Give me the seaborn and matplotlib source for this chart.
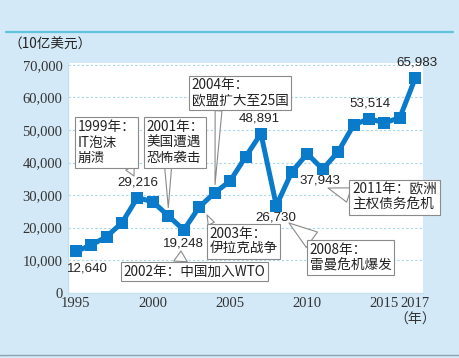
import matplotlib
matplotlib.use("Agg")
import matplotlib.pyplot as plt
from matplotlib.lines import Line2D
import seaborn as sns
import pandas as pd

# Data (10亿美元)
years = list(range(1995, 2018))
values = [12640, 14600, 17200, 21500, 29216, 27900, 23600, 19248, 26300, 30700,
          34300, 41700, 48891, 26730, 37100, 42700, 37943, 43300, 51500, 53514,
          52200, 53800, 65983]
label_years = [1995, 1999, 2002, 2007, 2008, 2011, 2014, 2017]
tick_years = [1995, 2000, 2005, 2010, 2015, 2017]
events = ["1999年：\nIT泡沫\n崩溃",
          "2001年：\n美国遭遇\n恐怖袭击",
          "2004年：\n欧盟扩大至25国",
          "2003年：\n伊拉克战争",
          "2002年：中国加入WTO",
          "2008年：\n雷曼危机爆发",
          "2011年：欧洲\n主权债务危机"]

df = pd.DataFrame({"year": years, "value": values})

sns.set_style("white")
plt.rcParams["font.family"] = ["Noto Sans CJK SC", "DejaVu Sans"]

W, H = 460, 358
bg = "#d4e9f7"
blue = "#0a7acb"

fig = plt.figure(figsize=(W / 100, H / 100), dpi=100, facecolor=bg)
ax = fig.add_axes([68 / W, 1 - 292.6 / H, (423 - 68) / W, (292.6 - 63) / H])
ax.set_facecolor("white")

sns.lineplot(data=df, x="year", y="value", ax=ax, color=blue, lw=3.6,
             marker="s", markersize=8.8, markeredgewidth=0, zorder=2)

ax.set_xlim(1994.5, 2017.5)
ax.set_ylim(0, 70600)
ax.set_xlabel("")
ax.set_ylabel("")

# grid
ax.set_yticks(range(0, 70001, 10000))
ax.set_yticklabels([f"{v:,}" for v in range(0, 70001, 10000)],
                   family="Liberation Serif", fontsize=10.5, color="#333333")
for v in range(10000, 70001, 10000):
    ax.axhline(v, color="#a6d6ec", lw=0.8, ls=(0, (2, 2)), zorder=0)

ax.set_xticks(tick_years)
ax.set_xticklabels([str(y) for y in tick_years], family="Liberation Serif",
                   fontsize=10.5, color="#333333")
ax.set_xticks(years, minor=True)
ax.tick_params(axis="x", which="both", direction="in", length=5,
               color="#c9dde6", width=0.8, pad=3)
ax.tick_params(axis="y", length=0, pad=4)
for s in ["top", "right"]:
    ax.spines[s].set_visible(False)
for s in ["left", "bottom"]:
    ax.spines[s].set_color("#c4e0ec")
    ax.spines[s].set_linewidth(1)

# value labels (pixel offsets)
label_off = {1995: (12, -17), 1999: (0, 15), 2002: (0, -13), 2007: (-2, 15),
             2008: (-1, -12), 2011: (-3, -11), 2014: (1, 15), 2017: (2, 16)}
for y in label_years:
    v = values[years.index(y)]
    dx, dy = label_off[y]
    ax.annotate(f"{v:,}", xy=(y, v), xytext=(dx * 0.72, dy * 0.72),
                textcoords="offset points", ha="center", va="center",
                fontsize=9.6, family="Liberation Sans", color="#222222",
                annotation_clip=False)

# event callouts: (box centre px, tip, tip coords, relpos, tail width, shrink)
def px(x, y):
    return (x, H - y)

callouts = [
    (px(106.5, 142.5), px(134, 176), "figure pixels", (0.88, 0), 0.7, 0),
    (px(175, 142.5), (2001, values[6]), "data", (0.38, 0), 0.5, 6),
    (px(240, 93), (2004, values[9]), "data", (0.28, 0), 0.5, 6),
    (px(243.5, 241.5), px(207, 215), "figure pixels", (0.05, 1), 0.5, 0),
    (px(194.5, 271.5), px(181, 251), "figure pixels", (0.4, 1), 1.0, 0),
    (px(350.5, 257.5), px(289, 223), "figure pixels", (0.08, 1), 1.4, 0),
    (px(394.5, 197.5), px(328, 188), "figure pixels", (0, 0.55), 1.1, 0),
]
for text, (cen, tip, tc, rp, tw, sb) in zip(events, callouts):
    ax.annotate(text, xy=tip, xycoords=tc, xytext=cen,
                textcoords="figure pixels", ha="center", va="center",
                multialignment="left", fontsize=9.8, linespacing=1.12,
                color="#222222", annotation_clip=False, zorder=4,
                bbox=dict(boxstyle="square,pad=0.2", fc="white",
                          ec="#8a8a8a", lw=0.8),
                arrowprops=dict(arrowstyle=f"wedge,tail_width={tw}",
                                fc="white", ec="#8a8a8a", lw=0.8,
                                relpos=rp, shrinkA=0, shrinkB=sb))

fig.text(8 / W, 1 - 45 / H, "（10亿美元）", fontsize=9.8, color="#222222",
         va="center", ha="left")
fig.text(415 / W, 1 - 320 / H, "（年）", fontsize=10, color="#333333",
         va="center", ha="center")

fig.add_artist(Line2D([6 / W, 453 / W], [1 - 32 / H] * 2, color="#62c3de", lw=1.6))
fig.add_artist(Line2D([0, 1], [1 - 355 / H] * 2, color="#8fa3b0", lw=1))

fig.savefig("out.png", dpi=100, facecolor=bg)
